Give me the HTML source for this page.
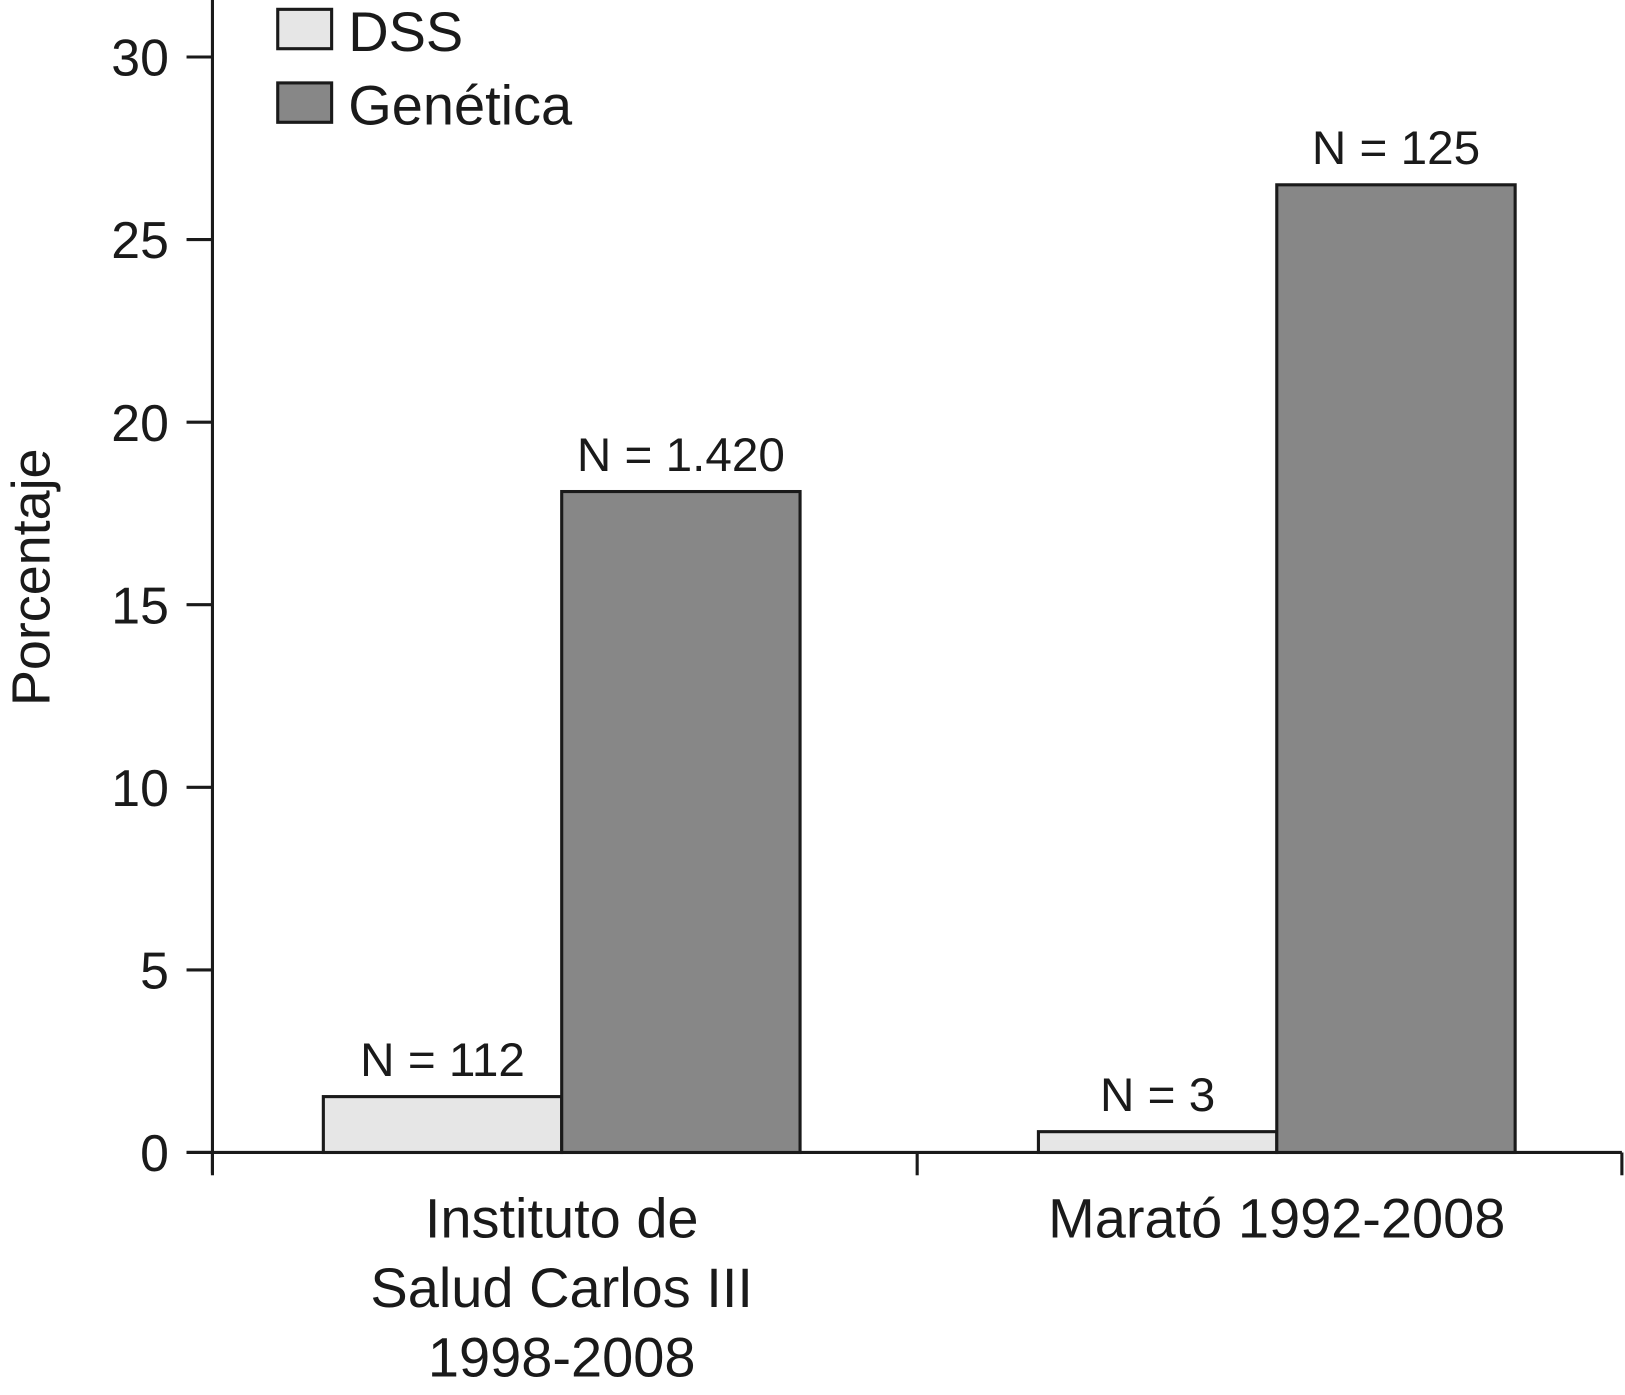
<!DOCTYPE html>
<html><head><meta charset="utf-8"><style>
html,body{margin:0;padding:0;background:#fff}
svg{display:block}
text{font-family:"Liberation Sans",Arial,sans-serif;fill:#1a1a1a}
</style></head><body>
<svg id="chart" width="1625" height="1395" viewBox="0 0 1568 1346" preserveAspectRatio="none" xmlns="http://www.w3.org/2000/svg">
<g id="axes"></g><g id="bars"></g><g id="legend"></g>
</svg>
<script>
const categories = [["Instituto de","Salud Carlos III","1998-2008"],["Marató 1992-2008"]];
const dssValues = [1.53, 0.57];
const genValues = [18.1, 26.5];
const dssLabels = ["N = 112","N = 3"];
const genLabels = ["N = 1.420","N = 125"];
const yTicks = [0,5,10,15,20,25,30];
const seriesNames = ["DSS","Genética"];

const NS="http://www.w3.org/2000/svg";
const x0=205, x1=1565, y0=1112, yTop=55;
function yScale(v){return y0-(v/30)*(y0-yTop);}
const groupW=(x1-x0)/categories.length;
function groupCenter(i){return 542+i*690;}
const barW=230;
function mk(tag,attrs,parent,txt){const e=document.createElementNS(NS,tag);for(const k in attrs)e.setAttribute(k,attrs[k]);if(txt!==undefined)e.textContent=txt;parent.appendChild(e);return e;}
const axes=document.getElementById('axes'), bars=document.getElementById('bars'), legend=document.getElementById('legend');

let yl=mk('line',{x1:x0,y1:0,x2:x0,y2:1132,stroke:'#1a1a1a','stroke-width':3},axes);


let xl=mk('line',{x1:x0-25,y1:y0,x2:x1,y2:y0,stroke:'#1a1a1a','stroke-width':3},axes);


yTicks.forEach(t=>{
  const y=yScale(t);
  const tk=mk('line',{x1:x0-25,y1:y,x2:x0,y2:y,stroke:'#1a1a1a','stroke-width':3},axes);
  
  
  const tl=mk('text',{x:x0-42,y:y+18,'text-anchor':'end','font-size':50},axes,String(t));
  
  
});
for(let i=0;i<=categories.length;i++){
  const x=x0+groupW*i;
  const tk=mk('line',{x1:x,y1:y0,x2:x,y2:y0+22,stroke:'#1a1a1a','stroke-width':3},axes);
  
  
}
categories.forEach((lines,i)=>{
  lines.forEach((ln,j)=>{
    const t=mk('text',{x:groupCenter(i),y:1194+j*67,'text-anchor':'middle','font-size':54},axes,ln);
    
    
  });
});
const yt=mk('text',{x:0,y:0,'text-anchor':'middle','font-size':52,transform:'translate(48,557) rotate(-90)'},axes,'Porcentaje');



categories.forEach((c,i)=>{
  const cx=groupCenter(i);
  const vals=[dssValues[i],genValues[i]], labs=[dssLabels[i],genLabels[i]], fills=['#e6e6e6','#878787'];
  vals.forEach((v,k)=>{
    const bx=cx-barW+k*barW, by=yScale(v);
    const r=mk('rect',{x:bx,y:by,width:barW,height:y0-by,fill:fills[k],stroke:'#1a1a1a','stroke-width':3},bars);
    
    
    const t=mk('text',{x:bx+barW/2,y:by-20,'text-anchor':'middle','font-size':46},bars,labs[k]);
    
    
  });
});

const lf=['#e6e6e6','#878787'];
seriesNames.forEach((n,k)=>{
  const y=9+k*71;
  const r=mk('rect',{x:268,y:y,width:52,height:38,fill:lf[k],stroke:'#1a1a1a','stroke-width':3},legend);
  
  
  const t=mk('text',{x:336,y:y+40,'font-size':54},legend,n);
  
  
});
</script>
</body></html>
